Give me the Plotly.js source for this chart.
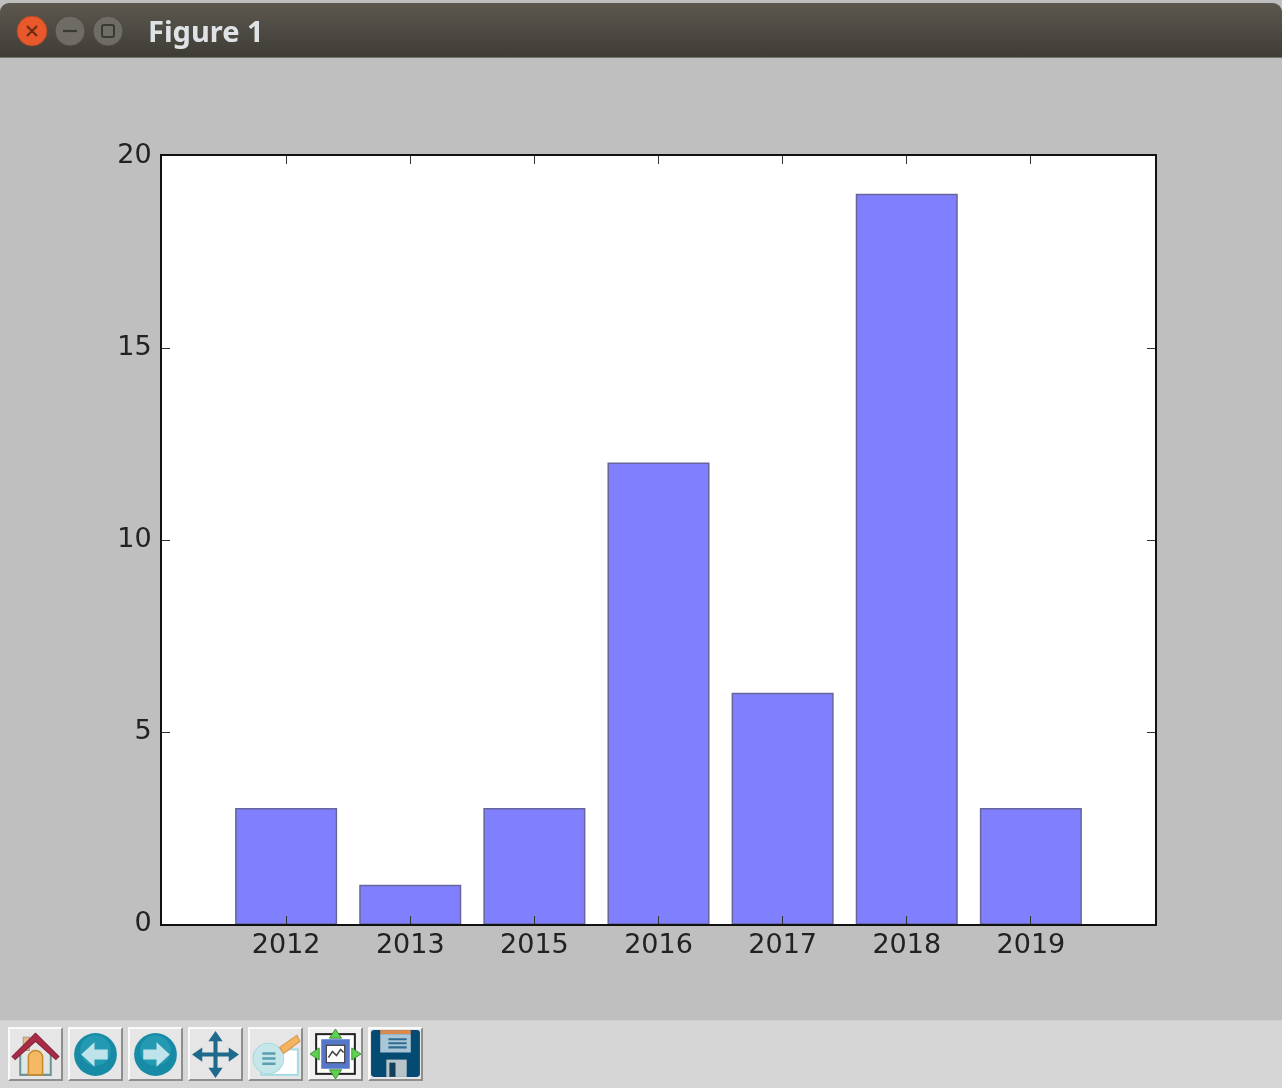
<!DOCTYPE html>
<html>
<head>
<meta charset="utf-8">
<script src="https://cdn.plot.ly/plotly-3.0.1.min.js"></script>
<style>
html,body{margin:0;padding:0;background:#fff;overflow:hidden}
#win{position:relative;width:1282px;height:1088px;overflow:hidden;background:#bfbfbf;filter:blur(0.55px)}
#titlebar{position:absolute;left:0;top:3px;width:1282px;height:55px;border-radius:9px 9px 0 0;background:linear-gradient(#5c5850,#3f3c36);border-bottom:1px solid #77746c;box-sizing:border-box}
#titletext{position:absolute;left:148px;top:10px;font:bold 29px "Noto Sans",sans-serif;line-height:36px;color:#dfe3e6}
#chart{position:absolute;left:0;top:57px;width:1282px;height:963px}
#toolbar{position:absolute;left:0;top:1020px;width:1282px;height:68px;background:#d6d6d6;border-top:1px solid #cdcdcd;box-sizing:border-box}
.btn{position:absolute;top:1027px;width:55px;height:54px;box-sizing:border-box;background:#e6e6e6;border-top:2px solid #fafafa;border-left:2px solid #fafafa;border-right:2px solid #8e8e8e;border-bottom:2px solid #8e8e8e}
.btn svg{position:absolute;left:-2px;top:-2px;width:55px;height:54px}
#wm{position:absolute;left:0;top:0}
</style>
</head>
<body>
<div id="win">
  <div id="chart"></div>
  <div id="titlebar">
    <svg id="wm" width="140" height="55">
      <circle cx="32" cy="28" r="15" fill="#e8582b" stroke="#a8482a"/>
      <path d="M27 23l10 10M37 23l-10 10" stroke="#6b2c18" stroke-width="2.2"/>
      <circle cx="70" cy="28" r="15" fill="#6f6c66" stroke="#4c4a45"/>
      <path d="M63 28h14" stroke="#3b3935" stroke-width="2.2"/>
      <circle cx="108" cy="28" r="15" fill="#6f6c66" stroke="#4c4a45"/>
      <rect x="102" y="22" width="12" height="12" rx="2" fill="none" stroke="#3b3935" stroke-width="2"/>
    </svg>
    <div id="titletext">Figure 1</div>
  </div>
  <div id="toolbar"></div>

  <div class="btn" style="left:8px"><svg viewBox="0 0 54 53">
    <path d="M12 26v21h30V26" fill="#dfe6e6" stroke="#6e9596" stroke-width="2"/>
    <path d="M20 47V30a7 7 0 0 1 14 0v17z" fill="#f5b964" stroke="#c98a30" stroke-width="1.5"/>
    <rect x="15" y="10" width="6" height="13" fill="#e9b98a" stroke="#a98"/>
    <path d="M4 29L27 6l23 23-3 3L27 14 7 32z" fill="#a82c45" stroke="#86233a"/>
  </svg></div>

  <div class="btn" style="left:68px"><svg viewBox="0 0 54 53">
    <circle cx="27" cy="27" r="21" fill="#178ba6"/><circle cx="27" cy="23" r="15" fill="#2aa0b8" opacity=".7"/>
    <path d="M13 27l13-12v7h13v10H26v7z" fill="#bfe3ea"/>
  </svg></div>

  <div class="btn" style="left:128px"><svg viewBox="0 0 54 53">
    <circle cx="27" cy="27" r="21" fill="#178ba6"/><circle cx="27" cy="23" r="15" fill="#2aa0b8" opacity=".7"/>
    <path d="M41 27L28 15v7H15v10h13v7z" fill="#bfe3ea"/>
  </svg></div>

  <div class="btn" style="left:188px"><svg viewBox="0 0 54 53">
    <path d="M27 4l7 10h-5v11h11v-5l10 7-10 7v-5H29v11h5l-7 10-7-10h5V29H14v5L4 27l10-7v5h11V14h-5z" fill="#1d6a8c"/>
  </svg></div>

  <div class="btn" style="left:248px"><svg viewBox="0 0 54 53">
    <rect x="13" y="22" width="36" height="25" fill="#fff" stroke="#a6dbe3" stroke-width="2"/>
    <circle cx="20" cy="31" r="15" fill="#c6e7ea" stroke="#a9d8de"/>
    <path d="M14 26h13M14 31h13M14 36h13" stroke="#5c9fb2" stroke-width="2.500"/>
    <path d="M31 20l17-12 3 6-16 12z" fill="#f4b35f" stroke="#d8954a"/>
  </svg></div>

  <div class="btn" style="left:308px;background:#f0f0f0"><svg viewBox="0 0 54 53">
    <rect x="8" y="7" width="38" height="39" fill="#fff" stroke="#222" stroke-width="2"/>
    <rect x="13" y="12" width="28" height="29" fill="#5577c8"/>
    <rect x="18" y="18" width="18" height="17" fill="#fff" stroke="#333"/>
    <path d="M20 30l4-6 4 4 4-6 3 3" fill="none" stroke="#444" stroke-width="1.500"/>
    <path d="M27 2l6 9H21zM27 51l6-9H21zM2 26.500l9-6v12zM52 26.500l-9-6v12z" fill="#5fd050" stroke="#2f7f2a" stroke-width=".8"/>
  </svg></div>

  <div class="btn" style="left:368px"><svg viewBox="0 0 54 53">
    <rect x="3" y="3" width="48" height="46" rx="3" fill="#054a73"/>
    <rect x="12" y="3" width="30" height="4" fill="#d98a4e"/>
    <rect x="12" y="7" width="30" height="18" fill="#a9c6d6"/>
    <path d="M20 12h18M20 16h18M20 20h18" stroke="#2f6d90" stroke-width="2"/>
    <rect x="18" y="32" width="20" height="17" fill="#b9c4c9"/>
    <rect x="21" y="35" width="6" height="14" fill="#123f5a"/>
  </svg></div>
</div>

<script>
var categories = ["2012", "2013", "2015", "2016", "2017", "2018", "2019"];
var counts = [3, 1, 3, 12, 6, 19, 3];
var yTicks = [0, 5, 10, 15, 20];
var positions = [0, 1, 2, 3, 4, 5, 6];

Plotly.newPlot("chart", [{
  type: "bar",
  x: positions,
  y: counts,
  width: 0.81,
  marker: {color: "#8080ff", line: {color: "#66669c", width: 1.5}},
  hoverinfo: "x+y"
}], {
  width: 1282,
  height: 963,
  margin: {l: 162, r: 127, t: 99, b: 96, pad: 0},
  paper_bgcolor: "#bfbfbf",
  plot_bgcolor: "#ffffff",
  showlegend: false,
  font: {family: "DejaVu Sans", size: 27, color: "#222222"},
  xaxis: {
    range: [-1, 7],
    tickmode: "array",
    tickvals: positions,
    ticktext: categories,
    ticks: "inside",
    ticklen: 8,
    tickwidth: 1,
    tickcolor: "#333333",
    showgrid: false,
    zeroline: false,
    showline: true,
    linecolor: "#111111",
    linewidth: 2,
    mirror: "ticks",
    ticklabelstandoff: -5
  },
  yaxis: {
    range: [0, 20],
    tickmode: "array",
    tickvals: yTicks,
    ticktext: yTicks.map(String),
    ticks: "inside",
    ticklen: 8,
    tickwidth: 1,
    tickcolor: "#333333",
    showgrid: false,
    zeroline: false,
    showline: true,
    linecolor: "#111111",
    linewidth: 2,
    mirror: "ticks",
    ticklabelstandoff: 3,
    ticklabelshift: -2
  }
}, {displayModeBar: false, staticPlot: true});
</script>
</body>
</html>
